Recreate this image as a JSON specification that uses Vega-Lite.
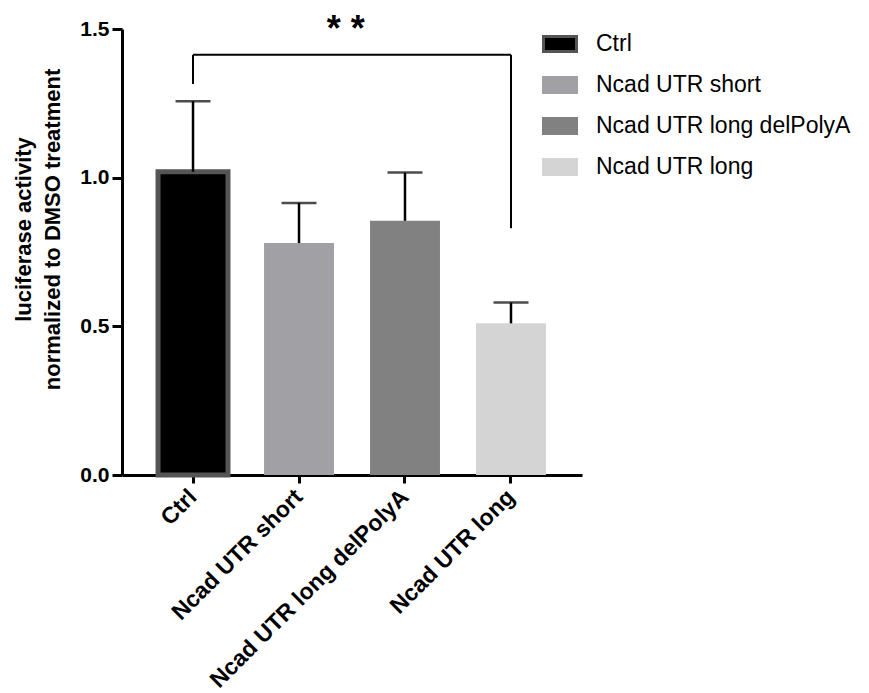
{
  "$schema": "https://vega.github.io/schema/vega-lite/v6.json",
  "width": 460,
  "height": 446,
  "autosize": "none",
  "padding": {"left": 122, "top": 29, "right": 287, "bottom": 218},
  "config": {
    "view": {"stroke": null},
    "font": "Liberation Sans"
  },
  "data": {
    "values": [
      {"group": "Ctrl", "value": 1.02, "upper": 1.257},
      {"group": "Ncad UTR short", "value": 0.78, "upper": 0.915},
      {"group": "Ncad UTR long delPolyA", "value": 0.855, "upper": 1.017},
      {"group": "Ncad UTR long", "value": 0.51, "upper": 0.58}
    ]
  },
  "layer": [
    {
      "mark": {"type": "bar", "filled": true},
      "encoding": {
        "x": {
          "field": "group", "type": "nominal", "sort": null,
          "scale": {"domain": ["Ctrl", "Ncad UTR short", "Ncad UTR long delPolyA", "Ncad UTR long"], "paddingInner": 0.34, "paddingOuter": 0.34},
          "axis": {
            "title": null, "labelAngle": -45, "labelAlign": "right", "labelBaseline": "middle",
            "labelFontSize": 23, "labelFontWeight": "bold", "labelColor": "black", "labelPadding": 10, "labelDx": 4, "labelLimit": 400,
            "domainColor": "black", "domainWidth": 3, "tickColor": "black", "tickWidth": 3, "tickSize": 8
          }
        },
        "y": {
          "field": "value", "type": "quantitative",
          "scale": {"domain": [0, 1.5], "nice": false},
          "axis": {
            "values": [0, 0.5, 1.0, 1.5], "format": ".1f", "grid": false,
            "labelFontSize": 21, "labelFontWeight": "bold", "labelColor": "black", "labelPadding": 3,
            "domainColor": "black", "domainWidth": 3, "tickColor": "black", "tickWidth": 3, "tickSize": 10,
            "title": ["luciferase activity", "normalized to DMSO treatment"],
            "titleFontSize": 22, "titleFontWeight": "bold", "titleColor": "black",
            "titleAngle": -90, "titleX": -99, "titleY": 200, "titleAlign": "center", "titleBaseline": "middle", "titleLineHeight": 29
          }
        },
        "fill": {
          "field": "group", "type": "nominal",
          "scale": {"domain": ["Ctrl", "Ncad UTR short", "Ncad UTR long delPolyA", "Ncad UTR long"], "range": ["#000000", "#a1a1a5", "#818181", "#d4d4d4"]},
          "legend": {
            "title": null, "orient": "none", "legendX": 420, "legendY": -3,
            "symbolType": "M-1,-0.45H1V0.45H-1Z", "symbolSize": 1089, "symbolStrokeWidth": 3,
            "labelFontSize": 23, "labelColor": "black", "labelOffset": 18, "rowPadding": 9, "labelLimit": 400
          }
        },
        "stroke": {
          "field": "group", "type": "nominal",
          "scale": {"domain": ["Ctrl", "Ncad UTR short", "Ncad UTR long delPolyA", "Ncad UTR long"], "range": ["#555555", "#a1a1a5", "#818181", "#d4d4d4"]}
        },
        "strokeWidth": {"condition": {"test": "datum.group === 'Ctrl'", "value": 5}, "value": 0}
      }
    },
    {
      "mark": {"type": "rule", "color": "black", "strokeWidth": 2.5},
      "encoding": {
        "x": {"field": "group", "type": "nominal", "sort": null},
        "y": {"field": "value", "type": "quantitative"},
        "y2": {"field": "upper"}
      }
    },
    {
      "mark": {"type": "tick", "color": "black", "thickness": 2.5, "size": 35},
      "encoding": {
        "x": {"field": "group", "type": "nominal", "sort": null},
        "y": {"field": "upper", "type": "quantitative"}
      }
    },
    {
      "data": {
        "values": [
          {"xa": "Ctrl", "xb": "Ncad UTR long", "ya": 1.413, "yb": 1.413},
          {"xa": "Ctrl", "xb": "Ctrl", "ya": 1.315, "yb": 1.413},
          {"xa": "Ncad UTR long", "xb": "Ncad UTR long", "ya": 0.83, "yb": 1.413}
        ]
      },
      "mark": {"type": "rule", "color": "black", "strokeWidth": 2},
      "encoding": {
        "x": {"field": "xa", "type": "nominal"},
        "x2": {"field": "xb"},
        "y": {"field": "ya", "type": "quantitative"},
        "y2": {"field": "yb"}
      }
    },
    {
      "data": {"values": [{"xa": "Ncad UTR short", "ya": 1.46, "label": "* *"}]},
      "mark": {"type": "text", "fontSize": 36, "fontWeight": "bold", "color": "black", "baseline": "alphabetic", "align": "center"},
      "encoding": {
        "x": {"field": "xa", "type": "nominal", "bandPosition": 1.17},
        "y": {"field": "ya", "type": "quantitative"},
        "text": {"field": "label"}
      }
    }
  ]
}
